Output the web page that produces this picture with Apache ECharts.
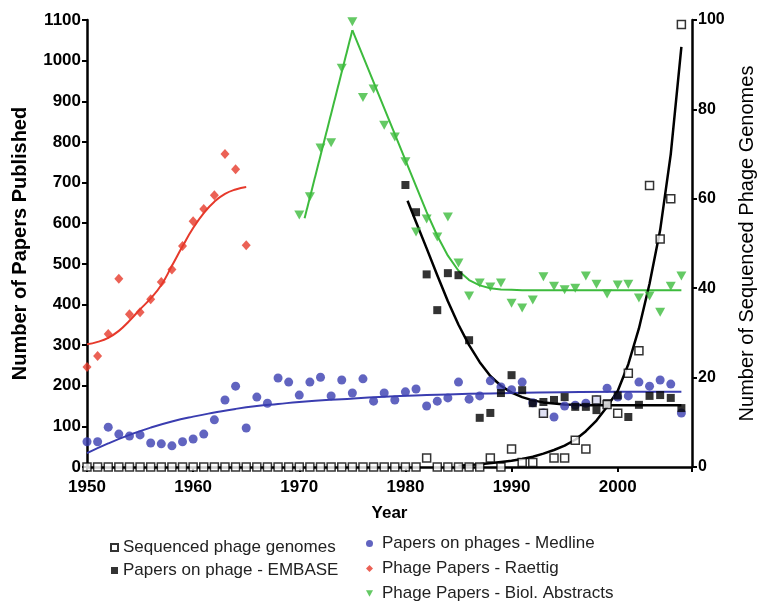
<!DOCTYPE html>
<html>
<head>
<meta charset="utf-8">
<script src="https://cdn.jsdelivr.net/npm/echarts@6/dist/echarts.min.js"></script>
<style>html,body{margin:0;padding:0;background:#fff}#c{width:765px;height:607px}</style>
</head>
<body>
<div id="c"></div>
<script>
// ---- data ----
var years = [];
for (var y = 1950; y <= 2006; y++) years.push(y);

var genomes = [0,0,0,0,0,0,0,0,0,0, 0,0,0,0,0,0,0,0,0,0, 0,0,0,0,0,0,0,0,0,0,
  0,0,2,0,0,0,0,0,2,0, 4,1,1,12,2,2,6,4,15,14, 12,21,26,63,51,60,99];

var embaseYears = [1980,1981,1982,1983,1984,1985,1986,1987,1988,1989,1990,1991,1992,1993,1994,1995,1996,1997,1998,1999,2000,2001,2002,2003,2004,2005,2006];
var embase = [694,627,474,386,477,472,312,121,133,182,226,189,157,160,165,172,148,148,140,157,176,123,153,175,177,170,145];

var medline = [62,62,98,81,76,79,59,57,52,62, 69,81,116,165,199,96,172,157,219,209,
  177,209,221,175,214,182,217,162,182,165, 185,192,150,162,170,209,167,175,212,197,
  190,209,158,133,123,150,152,157,165,194, 172,175,209,199,214,204,133];

var raettigYears = [1950,1951,1952,1953,1954,1955,1956,1957,1958,1959,1960,1961,1962,1963,1964,1965];
var raettig = [246,273,327,463,376,381,413,455,486,544,605,635,669,770,733,546];

var biolYears = [1970,1971,1972,1973,1974,1975,1976,1977,1978,1979,1980,1981,1982,1983,1984,1985,1986,1987,1988,1989,1990,1991,1992,1993,1994,1995,1996,1997,1998,1999,2000,2001,2002,2003,2004,2005,2006];
var biol = [620,665,785,798,981,1096,909,930,841,812,751,578,610,566,615,502,421,453,443,453,403,391,411,468,445,436,440,470,450,426,448,450,416,421,381,445,470];

// fitted curves
var raettigFit = [302,308,318,335,360,388,415,448,495,543,588,625,653,672,683,689];
var medlineFitYears = [1950,1952,1954,1956,1958,1960,1962,1964,1966,1968,1970,1974,1978,1982,1986,1990,1995,2000,2006];
var medlineFit = [34,58,79,97,112,124,134,143,150,155,160,167,173,177,180,182,184,185,185];
var biolRiseYears = [1970.5,1975];
var biolRise = [612,1075];
var biolFallYears = [1975,1982,1983,1984,1985,1986,1987,1988,1989,1990,1991,2006];
var biolFall = [1075,627,569,520,483,460,447,440,437,436,435,435];
var embaseFitYears = [1980.2,1981,1982,1983,1984,1985,1986,1987,1988,1989,1990,1991,1992,1993,1994,1995,1996,1997,1998,2006];
var embaseFit = [655,603,538,472,408,350,300,258,224,200,183,172,164,159,156,154,153,152,152,152];
var genomeFitYears = [1985,1987,1989,1990,1991,1992,1993,1994,1995,1996,1997,1998,1999,2000,2001,2002,2003,2004,2005,2006];
var genomeFit = [0.3,0.6,1.1,1.4,1.8,2.3,3,3.8,4.8,6.1,8,10.4,13.5,17,23,31,41,53,70,94];

var leftTicks = {min:0, max:1100, interval:100};
var rightTicks = {min:0, max:100, interval:20};

function pairs(xs, vs){ return xs.map(function(x,i){ return [x, vs[i]]; }); }

var FONT = 'Liberation Sans';
var BLUE = '#3a3db0', RED = '#e6392b', GREEN = '#3dbb3d';
var triDown = 'path://M0,0 L10,0 L5,9 Z';
var plain = function(v){ return String(v); };

var chart = echarts.init(document.getElementById('c'), null, {renderer:'canvas'});
chart.setOption({
  animation: false,
  backgroundColor: '#fff',
  grid: {left: 87, right: 68, top: 20, bottom: 140, containLabel: false},
  xAxis: {
    type: 'value', min: 1950, max: 2007, interval: 10,
    name: 'Year', nameLocation: 'middle', nameGap: 38,
    nameTextStyle: {fontFamily: FONT, fontWeight: 'bold', fontSize: 17, color: '#000'},
    axisLine: {lineStyle: {color: '#000', width: 2.5}},
    axisTick: {length: 5, lineStyle: {width: 2, color: '#000'}},
    axisLabel: {margin: 12, fontFamily: FONT, fontWeight: 'bold', fontSize: 17, color: '#000',
      formatter: function(v){ return v % 10 === 0 ? String(v) : ''; }},
    splitLine: {show: false}
  },
  yAxis: [{
    type: 'value', min: leftTicks.min, max: leftTicks.max, interval: leftTicks.interval,
    position: 'left',
    name: 'Number of Papers Published', nameLocation: 'middle', nameGap: 57, nameRotate: 90,
    nameTextStyle: {fontFamily: FONT, fontWeight: 'bold', fontSize: 20, color: '#000'},
    axisLine: {show: true, lineStyle: {color: '#000', width: 2.5}},
    axisTick: {show: true, length: 5, lineStyle: {width: 2, color: '#000'}},
    axisLabel: {margin: 6, fontFamily: FONT, fontWeight: 'bold', fontSize: 17, color: '#000', formatter: plain},
    splitLine: {show: false}
  }, {
    type: 'value', min: rightTicks.min, max: rightTicks.max, interval: rightTicks.interval,
    position: 'right',
    name: 'Number of Sequenced Phage Genomes', nameLocation: 'middle', nameGap: 45, nameRotate: 90,
    nameTextStyle: {fontFamily: FONT, fontSize: 20, color: '#000'},
    axisLine: {show: true, lineStyle: {color: '#000', width: 2.5}},
    axisTick: {show: true, length: 5, lineStyle: {width: 2, color: '#000'}},
    axisLabel: {margin: 6, fontFamily: FONT, fontWeight: 'bold', fontSize: 16, color: '#000', formatter: plain},
    splitLine: {show: false}
  }],
  legend: [{
    orient: 'vertical', left: 110, top: 538, padding: 0, itemWidth: 7, itemHeight: 7, itemGap: 4,
    textStyle: {fontFamily: FONT, fontSize: 17, color: '#222', lineHeight: 19},
    data: ['Sequenced phage genomes', 'Papers on phage - EMBASE']
  }, {
    orient: 'vertical', left: 366, top: 534, padding: 0, height: 73, itemWidth: 7, itemHeight: 7, itemGap: 6,
    textStyle: {fontFamily: FONT, fontSize: 17, color: '#222', lineHeight: 19, padding: [0,0,0,4]},
    data: ['Papers on phages - Medline', 'Phage Papers - Raettig', 'Phage Papers - Biol. Abstracts']
  }],
  series: [
    {name: 'Medline fit', type: 'line', smooth: true, showSymbol: false, symbol: 'none',
      data: pairs(medlineFitYears, medlineFit), lineStyle: {color: BLUE, width: 2}, z: 2},
    {name: 'Raettig fit', type: 'line', smooth: true, showSymbol: false, symbol: 'none',
      data: pairs(raettigYears, raettigFit), lineStyle: {color: RED, width: 2}, z: 2},
    {name: 'Biol rise', type: 'line', smooth: false, showSymbol: false, symbol: 'none',
      data: pairs(biolRiseYears, biolRise), lineStyle: {color: GREEN, width: 2}, z: 2},
    {name: 'Biol fall', type: 'line', smooth: false, showSymbol: false, symbol: 'none',
      data: pairs(biolFallYears, biolFall), lineStyle: {color: GREEN, width: 2, join: 'round'}, z: 2},
    {name: 'EMBASE fit', type: 'line', smooth: false, showSymbol: false, symbol: 'none',
      data: pairs(embaseFitYears, embaseFit), lineStyle: {color: '#000', width: 2.5, join: 'round'}, z: 2},
    {name: 'Genome fit', type: 'line', yAxisIndex: 1, smooth: false, showSymbol: false, symbol: 'none',
      data: pairs(genomeFitYears, genomeFit), lineStyle: {color: '#000', width: 2.5, join: 'round'}, z: 2},

    {name: 'Papers on phages - Medline', type: 'scatter', symbol: 'circle', symbolSize: 9,
      data: pairs(years, medline), itemStyle: {color: BLUE}, z: 3},
    {name: 'Phage Papers - Raettig', type: 'scatter', symbol: 'diamond', symbolSize: [9, 10],
      data: pairs(raettigYears, raettig), itemStyle: {color: RED}, z: 3},
    {name: 'Phage Papers - Biol. Abstracts', type: 'scatter', symbol: triDown, symbolSize: [10, 9],
      data: pairs(biolYears, biol), itemStyle: {color: GREEN}, z: 3},
    {name: 'Papers on phage - EMBASE', type: 'scatter', symbol: 'rect', symbolSize: 8,
      data: pairs(embaseYears, embase), itemStyle: {color: '#000'}, z: 4},
    {name: 'Sequenced phage genomes', type: 'scatter', yAxisIndex: 1, symbol: 'rect', symbolSize: 8,
      data: pairs(years, genomes), itemStyle: {color: '#fff', borderColor: '#000', borderWidth: 1.5}, z: 5}
  ]
});
</script>
</body>
</html>
